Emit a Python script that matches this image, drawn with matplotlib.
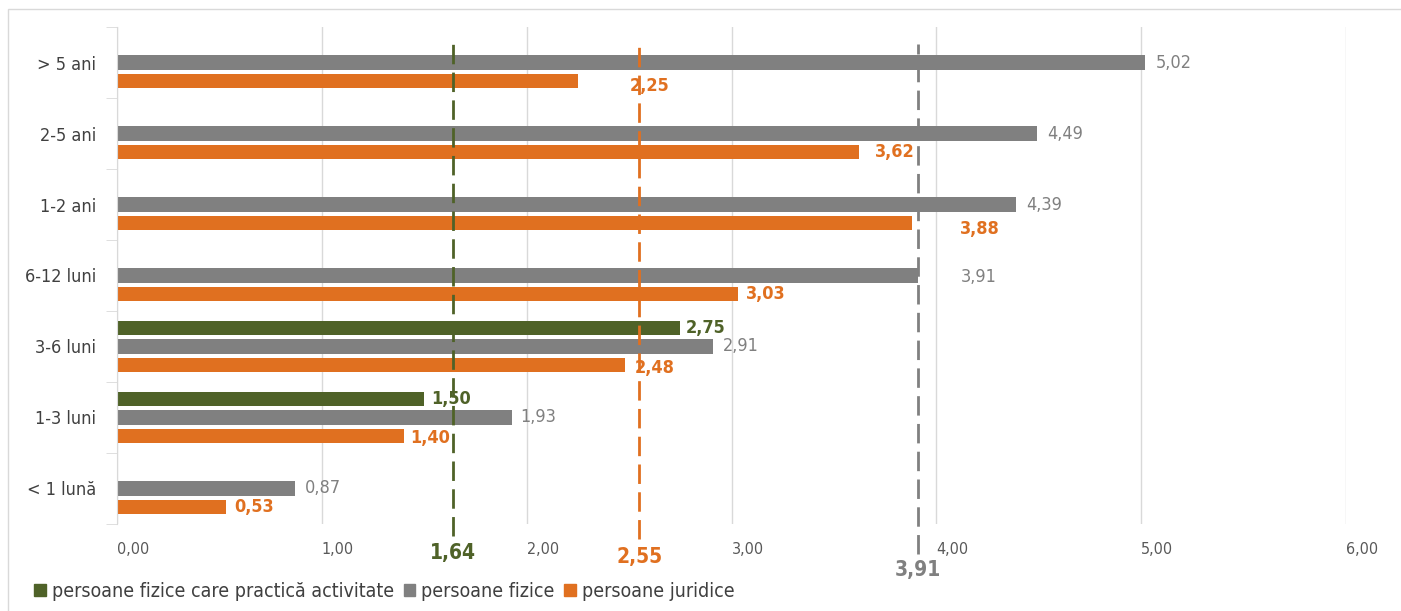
import matplotlib.pyplot as plt
import matplotlib.patches as mpatches
import numpy as np

plt.rcParams['font.family'] = ['DejaVu Sans']
plt.rcParams['font.stretch'] = 'condensed'

# --- data ---
categories = ['< 1 lună', '1-3 luni', '3-6 luni', '6-12 luni', '1-2 ani', '2-5 ani', '> 5 ani']
pf_activitate = [np.nan, 1.50, 2.75, np.nan, np.nan, np.nan, np.nan]
pf = [0.87, 1.93, 2.91, 3.91, 4.39, 4.49, 5.02]
pj = [0.53, 1.40, 2.48, 3.03, 3.88, 3.62, 2.25]
medii = [1.64, 3.91, 2.55]  # green, grey, orange averages
legend_labels = ['persoane fizice care practică activitate', 'persoane fizice', 'persoane juridice']

green = '#4f6228'
grey = '#808080'
orange = '#e07020'
text_col = '#404040'

fig = plt.figure(figsize=(14.01, 6.11), dpi=100)
ax = fig.add_axes([0.0835, 0.1424, 0.8773, 0.8134])

y = np.arange(len(categories))
h = 0.2
off = 0.26

ax.barh(y + off, pf_activitate, height=h, color=green)
ax.barh(y, pf, height=h, color=grey)
ax.barh(y - off, pj, height=h, color=orange)

def fmt(v):
    return f'{v:.2f}'.replace('.', ',')

# label offsets in pixels (dx, dy) - some moved away from the dashed lines
pf_off = [(10, 0), (8, 0), (10, 0), (43, -2), (10, 0), (10, 0), (10, 0)]
pj_off = [(9, 0), (6, -2), (10, -3), (8, 0), (48, -6), (16, 0), (52, -5)]
gr_off = [(5, 0), (7, 0), (5, 0), (5, 0), (5, 0), (5, 0), (5, 0)]

for i in range(len(categories)):
    if not np.isnan(pf_activitate[i]):
        ax.annotate(fmt(pf_activitate[i]), (pf_activitate[i], y[i] + off),
                    xytext=gr_off[i], textcoords='offset pixels', va='center',
                    fontsize=13, color=green, fontweight='bold')
    ax.annotate(fmt(pf[i]), (pf[i], y[i]), xytext=pf_off[i], textcoords='offset pixels',
                va='center', fontsize=13, color=grey)
    ax.annotate(fmt(pj[i]), (pj[i], y[i] - off), xytext=pj_off[i], textcoords='offset pixels',
                va='center', fontsize=13, color=orange, fontweight='bold')

# dashed average lines
line_cols = [green, grey, orange]
line_bottom = [-0.025, -0.06, -0.03]
label_dy = [-29, -46, -33]
for v, c, yb, dy in zip(medii, line_cols, line_bottom, label_dy):
    ax.axvline(v, ymin=yb, ymax=0.965, color=c, linestyle=(0, (7, 3)), linewidth=2, clip_on=False, zorder=3)
    ax.annotate(fmt(v), (v, 0), xycoords=('data', 'axes fraction'), xytext=(0, dy),
                textcoords='offset pixels', ha='center', va='center',
                fontsize=15, fontweight='bold', color=c, annotation_clip=False)

ax.set_xlim(0, 6)
ax.set_ylim(-0.5, len(categories) - 0.5)
ax.set_xticks(range(7))
ax.set_xticklabels([fmt(t) for t in range(7)], ha='left', fontsize=11.5, color='#595959')
ax.tick_params(axis='x', length=0, pad=13)
ax.set_yticks(y)
ax.set_yticklabels(categories, fontsize=13, color=text_col)
ax.tick_params(axis='y', length=0, pad=15)
ax.set_yticks(np.arange(-0.5, len(categories), 1), minor=True)
ax.tick_params(axis='y', which='minor', length=8, color='#d9d9d9')
ax.grid(axis='x', color='#d9d9d9', linewidth=1)
ax.set_axisbelow(True)
for s in ['top', 'right', 'bottom']:
    ax.spines[s].set_visible(False)
ax.spines['left'].set_color('#d9d9d9')

handles = [mpatches.Patch(color=c) for c in [green, grey, orange]]
fig.legend(handles, legend_labels, loc='lower left', bbox_to_anchor=(0.012, -0.012), ncol=3,
           frameon=False, fontsize=14, labelcolor=text_col, handlelength=0.6, handleheight=0.6,
           handletextpad=0.3, columnspacing=0.5)

fig.patches.append(mpatches.Rectangle((0.006, -0.01), 1.1, 0.995, transform=fig.transFigure,
                                      fill=False, edgecolor='#d9d9d9', linewidth=1))

fig.savefig('out.png', dpi=100)
